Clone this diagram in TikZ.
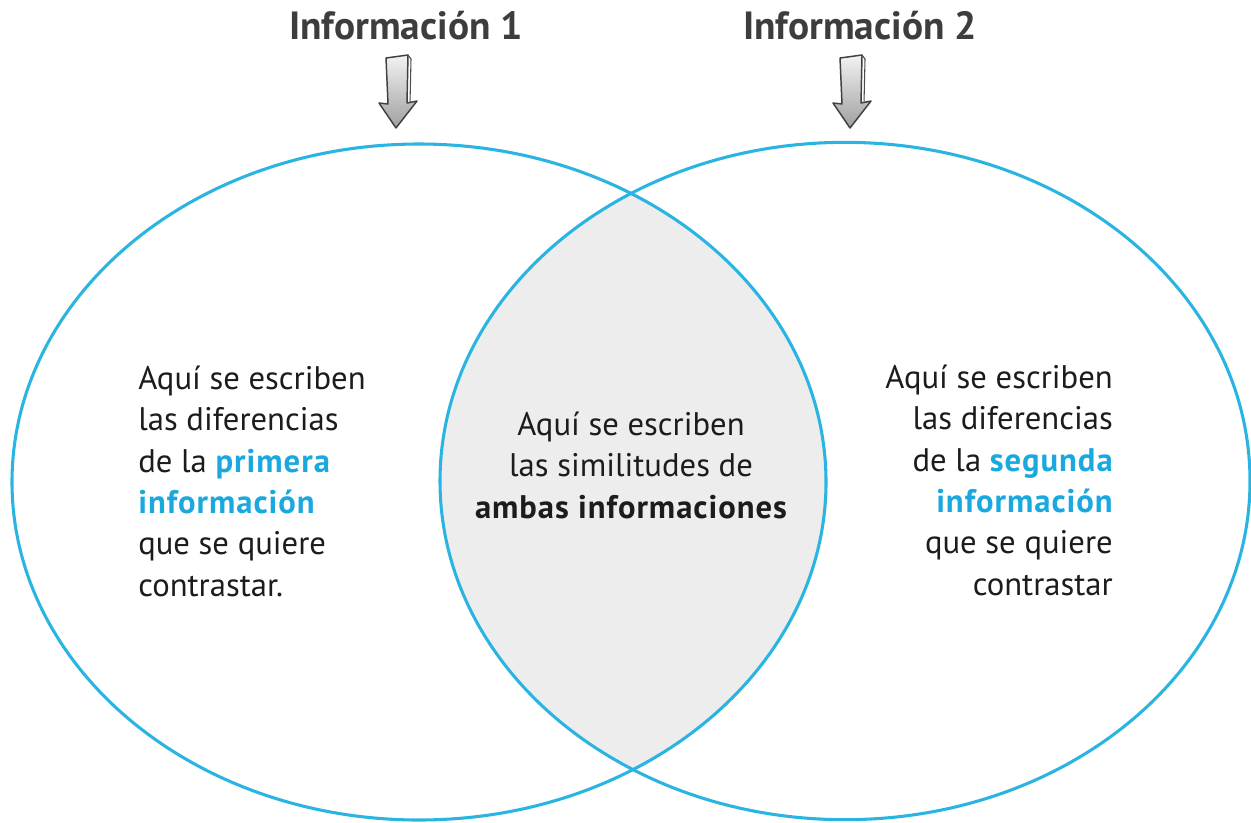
\documentclass[tikz,border=0pt]{standalone}
\usepackage{fontspec}
\setmainfont{PT Sans}
\definecolor{venn}{HTML}{2AB4E2}
\definecolor{accent}{HTML}{1AA9DF}
\definecolor{headgray}{HTML}{3D3D3D}
\definecolor{lens}{HTML}{EDEDED}
\definecolor{bodytext}{HTML}{1C1C1C}
\newcommand{\wbf}[1]{{\bfseries\addfontfeature{LetterSpace=3}#1}}
\newcommand{\hlt}[1]{\textcolor{accent}{\wbf{#1}}}
\begin{document}
\begin{tikzpicture}[x=0.75pt,y=-0.75pt,
  body/.style={font=\fontsize{24.5}{31}\selectfont, text=bodytext, inner sep=0pt},
  heading/.style={font=\fontsize{29.5}{34}\selectfont\bfseries, text=headgray, inner sep=0pt},
  ring/.style={draw=venn, line width=2.3pt},
  downarrow/.pic={
    \path[top color=gray!10, bottom color=gray!75, draw=black!75, line width=1.1pt, line join=round]
      (-10,3) -- (12,0) -- (11,48) -- (21,46) -- (0,73) -- (-17,48) -- (-8,49) -- cycle;
    \draw[black!70, line width=0.8pt] (12,0) -- (15,4) -- (14,48);
  }]
\useasboundingbox (0,0) rectangle (1251,822);
\fill[white] (0,0) rectangle (1251,822);
\begin{scope}
  \clip (419,482) ellipse [x radius=305.25pt, y radius=253.5pt];
  \fill[lens] (845,481) ellipse [x radius=303.75pt, y radius=254pt];
\end{scope}
\draw[ring] (419,482) ellipse [x radius=305.25pt, y radius=253.5pt];
\draw[ring] (845,481) ellipse [x radius=303.75pt, y radius=254pt];

\node[heading, anchor=base] (h1) at (406,39) {Información 1};
\node[heading, anchor=base] (h2) at (860,39) {Información 2};
\pic at (396,55) {downarrow};
\pic at (850,55) {downarrow};

\node[body, align=left, anchor=base west] (left) at (138,596)
  {Aquí se escriben\\las diferencias\\de la \hlt{primera}\\\hlt{información}\\que se quiere\\contrastar.};
\node[body, align=center, anchor=base] (mid) at (631,518)
  {Aquí se escriben\\las similitudes de\\\wbf{ambas informaciones}};
\node[body, align=right, anchor=base east] (right) at (1113,595)
  {Aquí se escriben\\las diferencias\\de la \hlt{segunda}\\\hlt{información}\\que se quiere\\contrastar};
\end{tikzpicture}
\end{document}
